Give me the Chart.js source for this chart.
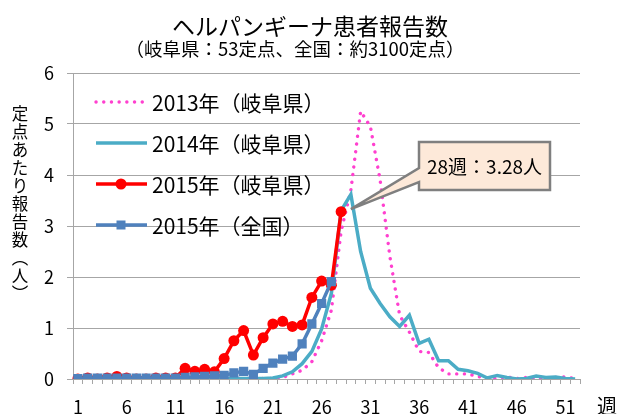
<!DOCTYPE html>
<html lang="ja">
<head>
    <meta charset="UTF-8" />
    <script src="https://cdn.jsdelivr.net/npm/chart.js"></script>
    <title>ヘルパンギーナ患者報告数</title>
    <style>
        html, body { margin: 0; padding: 0; background: #fff; }
        #wrap { width: 618px; height: 414px; }
    </style>
</head>
<body>
    <div id="wrap"><canvas id="grafica" width="618" height="414"></canvas></div>

    <script>
        // 週（カテゴリ）
        const semanas = ['1','2','3','4','5','6','7','8','9','10','11','12','13','14','15','16','17','18','19','20',
            '21','22','23','24','25','26','27','28','29','30','31','32','33','34','35','36','37','38','39','40',
            '41','42','43','44','45','46','47','48','49','50','51','52'];
        const semanasVisibles = ['1','6','11','16','21','26','31','36','41','46','51'];
        const valoresY = [0, 1, 2, 3, 4, 5, 6];

        // 2013年（岐阜県）
        const gifu2013 = [0.01,0.01,0.01,0.01,0.01,0.01,0.01,0.01,0.01,0.01,0.01,0.01,0.01,0.01,0.01,0.01,0.01,0.01,0.01,0.01,
            0.01,0.03,0.1,0.17,0.34,0.75,1.35,2.9,3.7,5.25,4.95,3.9,2.4,1.25,0.92,0.54,0.52,0.22,0.1,0.1,
            0.1,0.05,0.02,0.02,0.04,0.01,0.03,0.01,0.01,0.03,0.04,0.01];
        // 2014年（岐阜県）
        const gifu2014 = [0.01,0.01,0.01,0.01,0.01,0.01,0.01,0.01,0.01,0.01,0.01,0.01,0.01,0.01,0.01,0.01,0.01,0.01,0.01,0.01,
            0.02,0.06,0.14,0.3,0.54,0.98,1.68,3.3,3.62,2.5,1.78,1.48,1.22,1.03,1.25,0.7,0.78,0.36,0.36,0.19,
            0.16,0.11,0.02,0.07,0.03,0.0,0.01,0.06,0.03,0.04,0.01,0.0];
        // 2015年（岐阜県）
        const gifu2015 = [0.0,0.02,0.0,0.02,0.05,0.02,0.0,0.0,0.02,0.02,0.02,0.21,0.15,0.19,0.14,0.4,0.75,0.95,0.47,0.81,
            1.08,1.13,1.03,1.06,1.6,1.92,1.84,3.28];
        // 2015年（全国）
        const zenkoku2015 = [0.01,0.02,0.02,0.02,0.02,0.02,0.02,0.02,0.02,0.02,0.02,0.03,0.04,0.05,0.06,0.07,0.12,0.15,0.09,0.21,
            0.31,0.39,0.45,0.69,1.08,1.48,1.91];

        const fuente = "'Noto Sans CJK JP', 'Noto Sans', sans-serif";
        const gris = '#a6a6a6';

        const series = [
            { label: '2013年（岐阜県）', data: gifu2013, color: '#ff40cf', dash: [0.1, 7.6], width: 3.4, marker: null, order: 3 },
            { label: '2014年（岐阜県）', data: gifu2014, color: '#4bacc6', dash: [], width: 3.5, marker: null, order: 2 },
            { label: '2015年（岐阜県）', data: gifu2015, color: '#ff0000', dash: [], width: 3.5, marker: 'circle', order: 1 },
            { label: '2015年（全国）', data: zenkoku2015, color: '#4f81bd', dash: [], width: 3.5, marker: 'rect', order: 0 }
        ];

        // textos: título, eje Y vertical, leyenda, globo
        const textosPlugin = {
            id: 'textos',
            afterDraw(chart) {
                const c = chart.ctx;
                const { x, y } = chart.scales;
                c.save();
                c.fillStyle = '#000';
                c.textAlign = 'center';
                c.textBaseline = 'middle';
                c.font = `23px ${fuente}`;
                c.fillText('ヘルパンギーナ患者報告数', 310, 26);
                c.font = `18.5px ${fuente}`;
                c.fillText('（岐阜県：53定点、全国：約3100定点）', 295, 49);

                // eje Y en vertical
                const vert = ['定','点','あ','た','り','報','告','数','︵','人','︶'];
                c.font = `16.5px ${fuente}`;
                vert.forEach((ch, i) => c.fillText(ch, 20, 114 + i * 18));

                // 週
                c.font = `20px ${fuente}`;
                c.fillText('週', 607, 406);

                // leyenda
                series.forEach((s, i) => {
                    const ly = 102 + i * 41;
                    c.strokeStyle = s.color;
                    c.lineWidth = s.width;
                    c.setLineDash(s.dash);
                    c.lineCap = s.dash.length ? 'round' : 'butt';
                    c.beginPath();
                    c.moveTo(96, ly);
                    c.lineTo(147, ly);
                    c.stroke();
                    c.setLineDash([]);
                    c.fillStyle = s.color;
                    if (s.marker === 'circle') {
                        c.beginPath();
                        c.arc(121, ly, 5.5, 0, Math.PI * 2);
                        c.fill();
                    } else if (s.marker === 'rect') {
                        c.fillRect(121 - 4.5, ly - 4.5, 9, 9);
                    }
                    c.fillStyle = '#000';
                    c.textAlign = 'left';
                    c.font = `21px ${fuente}`;
                    c.fillText(s.label, 152, ly + 1);
                });

                // globo 28週
                const px = x.getPixelForValue(28);
                const py = y.getPixelForValue(3.33);
                const bx = 419, by = 142, bw = 131, bh = 48;
                c.beginPath();
                c.moveTo(bx, by);
                c.lineTo(bx + bw, by);
                c.lineTo(bx + bw, by + bh);
                c.lineTo(bx, by + bh);
                c.lineTo(bx, 182);
                c.lineTo(px, py);
                c.lineTo(bx, 168);
                c.closePath();
                c.fillStyle = '#fde9d9';
                c.fill();
                c.strokeStyle = '#7f7f7f';
                c.lineWidth = 2.5;
                c.lineJoin = 'miter';
                c.stroke();
                c.fillStyle = '#000';
                c.textAlign = 'center';
                c.font = `19px ${fuente}`;
                c.fillText('28週：3.28人', bx + bw / 2, by + bh / 2 + 1);
                c.restore();
            }
        };

        const ctx = document.getElementById('grafica').getContext('2d');
        new Chart(ctx, {
            type: 'line',
            data: {
                labels: semanas,
                datasets: series.map(s => ({
                    label: s.label,
                    data: s.data,
                    borderColor: s.color,
                    backgroundColor: s.color,
                    borderWidth: s.width,
                    borderDash: s.dash,
                    borderCapStyle: s.dash.length ? 'round' : 'butt',
                    pointStyle: s.marker || 'circle',
                    pointRadius: s.marker === 'circle' ? 5.5 : (s.marker === 'rect' ? 6.5 : 0),
                    pointBorderWidth: 0,
                    pointBackgroundColor: s.color,
                    tension: 0,
                    fill: false,
                    order: s.order
                }))
            },
            options: {
                responsive: false,
                animation: false,
                devicePixelRatio: 1,
                layout: { padding: { top: 73, right: 38, left: 0, bottom: 0 } },
                plugins: {
                    legend: { display: false },
                    tooltip: { enabled: false }
                },
                scales: {
                    x: {
                        offset: true,
                        grid: { offset: true, drawOnChartArea: false, tickLength: 5, color: gris },
                        border: { color: gris },
                        ticks: {
                            autoSkip: false,
                            maxRotation: 0,
                            padding: 12,
                            color: '#000',
                            font: { size: 18, family: fuente },
                            callback: (v, i) => semanasVisibles.includes(semanas[i]) ? semanas[i] : ''
                        },
                        afterFit: s => { s.height = 35; }
                    },
                    y: {
                        min: valoresY[0],
                        max: valoresY[valoresY.length - 1],
                        afterBuildTicks: s => { s.ticks = valoresY.map(v => ({ value: v })); },
                        grid: { color: gris, tickLength: 6 },
                        border: { color: gris },
                        ticks: {
                            padding: 13,
                            color: '#000',
                            font: { size: 18, family: fuente }
                        },
                        afterFit: s => { s.width = 73; }
                    }
                }
            },
            plugins: [textosPlugin]
        });
    </script>
</body>
</html>
